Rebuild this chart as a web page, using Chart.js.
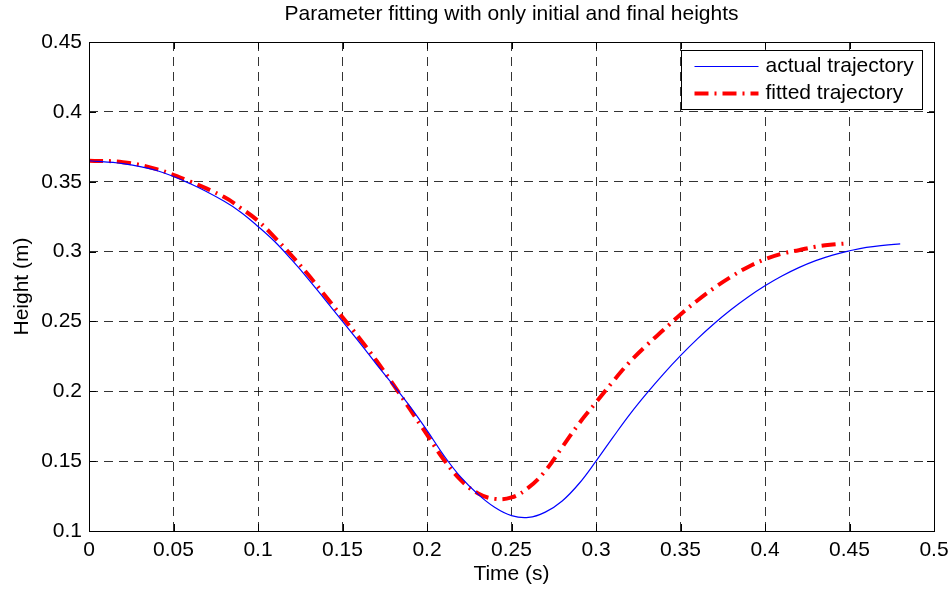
<!DOCTYPE html>
<html>
<head>
<meta charset="utf-8">
<script src="https://cdn.jsdelivr.net/npm/chart.js@4"></script>
<style>
  html, body { margin: 0; padding: 0; background: #fff; }
  #wrap { width: 952px; height: 590px; }
</style>
</head>
<body>
<div id="wrap"><canvas id="chart" width="952" height="590"></canvas></div>
<script>
const title = 'Parameter fitting with only initial and final heights';
const xLabel = 'Time (s)';
const yLabel = 'Height (m)';

const xTicks = [0, 0.05, 0.1, 0.15, 0.2, 0.25, 0.3, 0.35, 0.4, 0.45, 0.5];
const yTicks = [0.1, 0.15, 0.2, 0.25, 0.3, 0.35, 0.4, 0.45];

// actual trajectory
const tActual = [0, 0.02, 0.04, 0.06, 0.08, 0.09, 0.10, 0.11, 0.12, 0.13, 0.14, 0.15, 0.16,
  0.17, 0.18, 0.19, 0.20, 0.21, 0.22, 0.23, 0.24, 0.25, 0.26, 0.27, 0.28, 0.29,
  0.30, 0.31, 0.32, 0.33, 0.34, 0.35, 0.36, 0.37, 0.38, 0.39, 0.40, 0.41, 0.42, 0.43,
  0.44, 0.45, 0.46, 0.47, 0.48];
const hActual = [0.365, 0.363, 0.358, 0.3485, 0.336, 0.328, 0.318, 0.307, 0.294, 0.280, 0.265, 0.250, 0.235,
  0.2195, 0.2045, 0.189, 0.172, 0.154, 0.1385, 0.1265, 0.117, 0.111, 0.1097, 0.1135, 0.1215, 0.134,
  0.150, 0.167, 0.1835, 0.1985, 0.2125, 0.2255, 0.2375, 0.2485, 0.2585, 0.2675, 0.2755, 0.2825, 0.2885, 0.2935,
  0.2975, 0.3005, 0.303, 0.3045, 0.3055];

// fitted trajectory
const tFitted = [0, 0.02, 0.04, 0.06, 0.08, 0.09, 0.10, 0.11, 0.12, 0.13, 0.14, 0.15, 0.16,
  0.17, 0.18, 0.19, 0.20, 0.21, 0.22, 0.23, 0.24, 0.25, 0.26, 0.27, 0.28, 0.29, 0.30,
  0.31, 0.32, 0.33, 0.34, 0.35, 0.36, 0.37, 0.38, 0.39, 0.40, 0.41, 0.42, 0.43, 0.44, 0.45];
const hFitted = [0.365, 0.364, 0.359, 0.350, 0.339, 0.331, 0.322, 0.310, 0.297, 0.283, 0.268, 0.253, 0.238,
  0.222, 0.205, 0.187, 0.169, 0.151, 0.1365, 0.127, 0.123, 0.124, 0.131, 0.143, 0.160, 0.177, 0.192,
  0.207, 0.221, 0.233, 0.244, 0.255, 0.265, 0.274, 0.282, 0.289, 0.2945, 0.2985, 0.301, 0.3035, 0.305, 0.306];

const FONT = 'Liberation Sans, Arial, Helvetica, sans-serif';
const FSIZE = 21;

const datasets = [{
  label: 'actual trajectory',
  data: tActual.map((t, i) => ({ x: t, y: hActual[i] })),
  borderColor: 'rgb(0,0,255)',
  borderWidth: 1.2,
  pointRadius: 0,
  tension: 0.4,
  dash: []
}, {
  label: 'fitted trajectory',
  data: tFitted.map((t, i) => ({ x: t, y: hFitted[i] })),
  borderColor: 'rgb(255,0,0)',
  borderWidth: 4,
  borderDash: [14, 6, 2, 6],
  pointRadius: 0,
  tension: 0.4,
  dash: [14, 6, 2, 6]
}];

// box, inner ticks, title and legend in the MATLAB style
const matlabFrame = {
  id: 'matlabFrame',
  afterDraw(chart) {
    const { ctx, chartArea: a, scales } = chart;
    ctx.save();
    ctx.strokeStyle = '#000';
    ctx.lineWidth = 1;
    ctx.setLineDash([]);
    ctx.strokeRect(Math.round(a.left) + 0.5, Math.round(a.top) + 0.5,
      Math.round(a.right - a.left), Math.round(a.bottom - a.top));

    // inward tick marks on all four sides
    const tl = 7;
    ctx.beginPath();
    xTicks.forEach(v => {
      const px = Math.round(scales.x.getPixelForValue(v)) + 0.5;
      ctx.moveTo(px, a.bottom); ctx.lineTo(px, a.bottom - tl);
      ctx.moveTo(px, a.top); ctx.lineTo(px, a.top + tl);
    });
    yTicks.forEach(v => {
      const py = Math.round(scales.y.getPixelForValue(v)) + 0.5;
      ctx.moveTo(a.left, py); ctx.lineTo(a.left + tl, py);
      ctx.moveTo(a.right, py); ctx.lineTo(a.right - tl, py);
    });
    ctx.stroke();

    // title over the plot area
    ctx.fillStyle = '#000';
    ctx.font = FSIZE + 'px ' + FONT;
    ctx.textAlign = 'center';
    ctx.textBaseline = 'middle';
    ctx.fillText(title, (a.left + a.right) / 2, 14);

    // legend
    const bw = 241, bh = 59;
    const bx = Math.round(a.right - 12 - bw) + 0.5;
    const by = Math.round(a.top + 8) + 0.5;
    ctx.fillStyle = '#fff';
    ctx.fillRect(bx, by, bw, bh);
    ctx.strokeStyle = '#000';
    ctx.lineWidth = 1;
    ctx.strokeRect(bx, by, bw, bh);
    ctx.textAlign = 'left';
    chart.data.datasets.forEach((ds, i) => {
      const ry = by + 16 + i * 27;
      ctx.beginPath();
      ctx.strokeStyle = ds.borderColor;
      ctx.lineWidth = ds.borderWidth;
      ctx.setLineDash(ds.dash);
      ctx.moveTo(bx + 13, ry);
      ctx.lineTo(bx + 77, ry);
      ctx.stroke();
      ctx.setLineDash([]);
      ctx.fillStyle = '#000';
      ctx.fillText(ds.label, bx + 84, ry);
    });
    ctx.restore();
  }
};

const gridOpts = {
  color: 'rgba(0,0,0,0.8)',
  lineWidth: 1,
  drawTicks: false
};

const config = {
  type: 'line',
  data: { datasets },
  options: {
    responsive: false,
    animation: false,
    layout: { padding: { top: 42, right: 18, bottom: 0, left: 0 } },
    plugins: {
      legend: { display: false },
      title: { display: false },
      tooltip: { enabled: false }
    },
    scales: {
      x: {
        type: 'linear',
        min: 0,
        max: 0.5,
        afterBuildTicks: s => { s.ticks = xTicks.map(v => ({ value: v })); },
        afterFit: s => { s.height = 59; s.paddingRight = 0; s.paddingLeft = 0; },
        ticks: {
          color: '#000',
          font: { family: FONT, size: FSIZE },
          padding: 7,
          maxRotation: 0,
          autoSkip: false,
          callback: v => String(v)
        },
        grid: gridOpts,
        border: { display: false, dash: [9, 6] },
        title: {
          display: true,
          text: xLabel,
          color: '#000',
          font: { family: FONT, size: FSIZE },
          padding: { top: 0, bottom: 3 }
        }
      },
      y: {
        type: 'linear',
        min: 0.1,
        max: 0.45,
        afterBuildTicks: s => { s.ticks = yTicks.map(v => ({ value: v })); },
        afterFit: s => { s.width = 89; },
        ticks: {
          color: '#000',
          font: { family: FONT, size: FSIZE },
          padding: 7,
          autoSkip: false,
          callback: v => String(v)
        },
        grid: gridOpts,
        border: { display: false, dash: [9, 6] },
        title: {
          display: true,
          text: yLabel,
          color: '#000',
          font: { family: FONT, size: FSIZE },
          padding: { top: 10, bottom: 0 }
        }
      }
    }
  },
  plugins: [matlabFrame]
};

const chart = new Chart(document.getElementById('chart').getContext('2d'), config);
</script>
</body>
</html>
